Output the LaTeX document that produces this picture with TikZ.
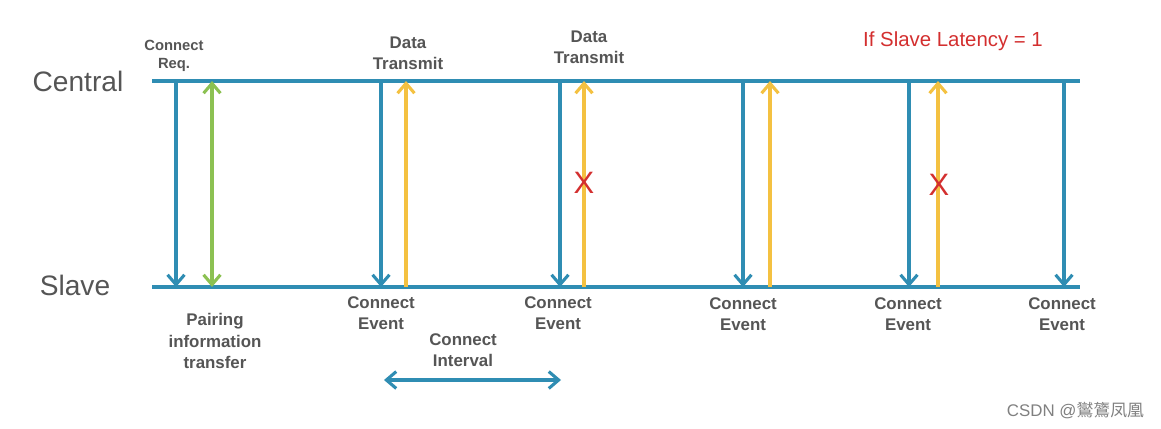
\documentclass[tikz,border=0pt]{standalone}
\usepackage{fontspec}
\setmainfont{Liberation Sans}
\newfontfamily\cjkfont{Noto Sans CJK SC}
\usetikzlibrary{arrows.meta}

\definecolor{lineblue}{HTML}{2F8DB3}
\definecolor{dataamber}{HTML}{F4C141}
\definecolor{pairgreen}{HTML}{8CC152}
\definecolor{latred}{HTML}{D32F2F}
\definecolor{textgray}{HTML}{555555}

\tikzset{
    timeline/.style={lineblue, line width=2.6pt},
    eventarrow/.style={lineblue, line width=2.2pt, -{Straight Barb[length=7pt,width=12pt,line width=2.2pt]}},
    dataarrow/.style={dataamber, line width=2.2pt, -{Straight Barb[length=7pt,width=12pt,line width=2.2pt]}},
    pairarrow/.style={pairgreen, line width=2.2pt, {Straight Barb[length=7pt,width=12pt,line width=2.2pt]}-{Straight Barb[length=7pt,width=12pt,line width=2.2pt]}},
    lbl/.style={font=\bfseries\fontsize{12}{15}\selectfont, text=textgray, align=center, inner sep=0pt},
    lost/.style={font=\fontsize{22}{22}\selectfont, text=latred, inner sep=0pt}
}

\begin{document}
\begin{tikzpicture}[x=0.025cm, y=-0.025cm]
    \useasboundingbox (0,0) rectangle (1161,428);

    %----------------------
    % CENTRAL / SLAVE TIMELINES
    %----------------------
    \node[font=\fontsize{20}{20}\selectfont, text=textgray] (central) at (78,81) {Central};
    \node[font=\fontsize{20}{20}\selectfont, text=textgray] (slave) at (75,285) {Slave};

    \coordinate (cL) at (152,81);
    \coordinate (cR) at (1080,81);
    \coordinate (sL) at (152,287);
    \coordinate (sR) at (1080,287);
    \draw[timeline] (cL) -- (cR);
    \draw[timeline] (sL) -- (sR);

    %----------------------
    % CONNECT REQUEST + PAIRING
    %----------------------
    \node[lbl, font=\bfseries\fontsize{10.5}{13}\selectfont] (req) at (174,56) {Connect\\Req.};
    \coordinate (c0) at (176,81);
    \coordinate (s0) at (176,287);
    \draw[eventarrow] (c0) -- (s0);

    \coordinate (gc) at (212,81);
    \coordinate (gs) at (212,287);
    \draw[pairarrow] (gs) -- (gc);
    \node[lbl] (pairing) at (215,341) {Pairing\\information\\transfer};

    %----------------------
    % CONNECT EVENTS (blue) and DATA (amber)
    %----------------------
    \foreach \x/\n in {381/1, 560/2, 743/3, 909/4, 1064/5} {
        \coordinate (c\n) at (\x,81);
        \coordinate (s\n) at (\x,287);
        \draw[eventarrow] (c\n) -- (s\n);
    }
    \node[lbl] (ev1) at (381,313) {Connect\\Event};
    \node[lbl] (ev2) at (558,313) {Connect\\Event};
    \node[lbl] (ev3) at (743,314) {Connect\\Event};
    \node[lbl] (ev4) at (908,314) {Connect\\Event};
    \node[lbl] (ev5) at (1062,314) {Connect\\Event};

    \foreach \x/\n in {406/1, 584/2, 770/3, 938/4} {
        \coordinate (dc\n) at (\x,81);
        \coordinate (ds\n) at (\x,287);
        \draw[dataarrow] (ds\n) -- (dc\n);
    }
    \node[lbl] (tx1) at (408,53) {Data\\Transmit};
    \node[lbl] (tx2) at (589,47) {Data\\Transmit};

    % skipped by slave latency
    \node[lost] (x1) at (584,183) {X};
    \node[lost] (x2) at (939,185) {X};
    \node[font=\fontsize{14.5}{17}\selectfont, text=latred] (latency) at (953,41) {If Slave Latency = 1};

    %----------------------
    % CONNECT INTERVAL
    %----------------------
    \node[lbl] (interval) at (463,350) {Connect\\Interval};
    \coordinate (iL) at (384,380);
    \coordinate (iR) at (561,380);
    \draw[lineblue, line width=2.2pt, {Straight Barb[length=7pt,width=12pt,line width=2.2pt]}-{Straight Barb[length=7pt,width=12pt,line width=2.2pt]}] (iL) -- (iR);

    % watermark
    \node[anchor=east, text=gray, font=\fontsize{12}{14}\selectfont] (mark) at (1149,410) {CSDN @{\cjkfont 鸑鷟凤凰}};

\end{tikzpicture}
\end{document}
